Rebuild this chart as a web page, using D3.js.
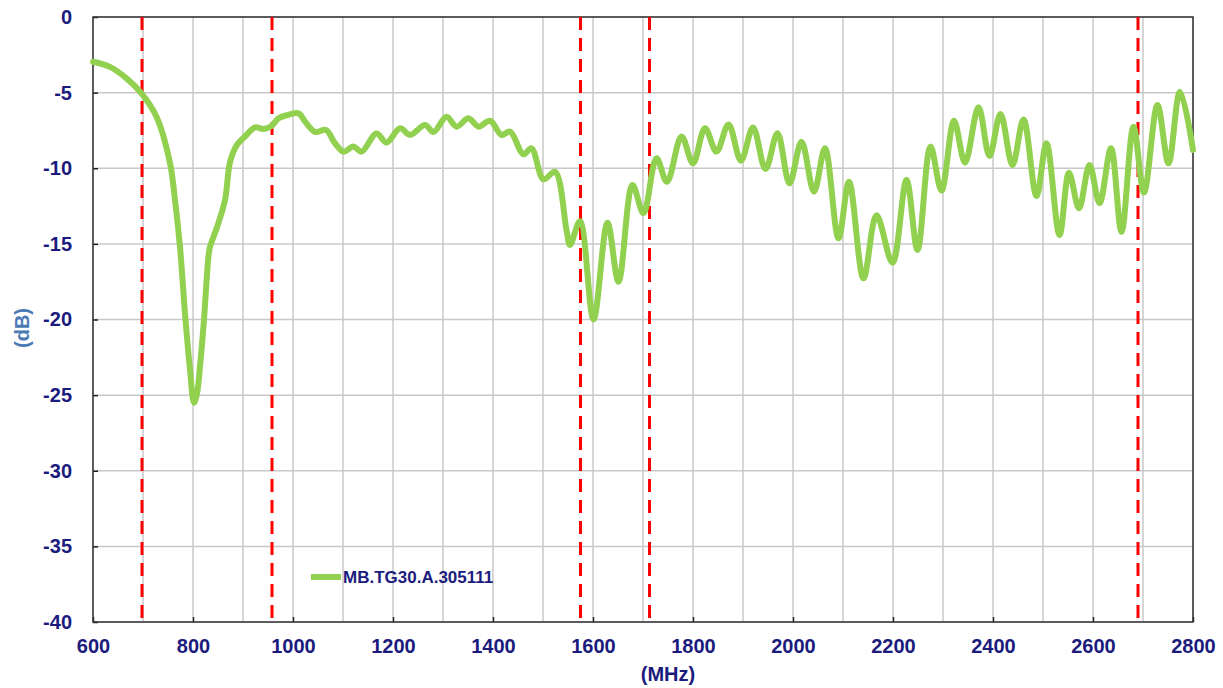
<!DOCTYPE html>
<html>
<head>
<meta charset="utf-8">
<script src="https://cdn.jsdelivr.net/npm/d3@7"></script>
<style>
  html, body { margin: 0; padding: 0; background: #fff; }
  #chart { width: 1223px; height: 688px; }
  text { font-family: "Liberation Sans", Arial, sans-serif; }
</style>
</head>
<body>
<div id="chart"></div>
<script>
// =============================
// DATA
// =============================
const freq = [600, 634, 667, 697, 727, 754, 764, 774, 784, 794, 802, 808, 814, 822, 831, 834, 848, 864, 874, 887,
  907, 924, 941, 957, 971, 987, 1011, 1024, 1044, 1066, 1084, 1101, 1121, 1137, 1167, 1187, 1214, 1234, 1264, 1281,
  1307, 1327, 1351, 1371, 1394, 1417, 1434, 1461, 1477, 1501, 1524, 1547, 1554, 1574, 1601, 1629, 1651, 1679, 1701, 1727,
  1748, 1777, 1800, 1824, 1847, 1871, 1896, 1920, 1945, 1969, 1993, 2017, 2042, 2064, 2091, 2112, 2141, 2167, 2199, 2227,
  2249, 2275, 2297, 2322, 2344, 2371, 2393, 2415, 2439, 2461, 2487, 2507, 2533, 2552, 2572, 2593, 2613, 2636, 2657, 2681,
  2702, 2729, 2751, 2774, 2800];
const gain = [-2.96, -3.3, -4.06, -5.05, -6.6, -9.66, -12.1, -15.2, -19.6, -23.3, -25.5, -24.9, -23.1, -20.0, -15.8, -15.2, -13.9, -12.1, -9.6, -8.5,
  -7.8, -7.3, -7.4, -7.2, -6.7, -6.5, -6.37, -6.9, -7.6, -7.47, -8.35, -8.9, -8.57, -8.9, -7.7, -8.3, -7.36, -7.8, -7.14, -7.6,
  -6.6, -7.25, -6.7, -7.25, -6.86, -7.8, -7.58, -9.08, -8.68, -10.73, -10.23, -14.08, -15.07, -13.5, -20.0, -13.6, -17.5, -11.1, -12.98, -9.34,
  -10.9, -7.9, -9.67, -7.36, -8.9, -7.1, -9.5, -7.3, -10.05, -7.69, -11.0, -8.24, -11.55, -8.68, -14.63, -10.9, -17.28, -13.1, -16.24, -10.78,
  -15.4, -8.57, -11.48, -6.86, -9.63, -5.97, -9.19, -6.41, -9.79, -6.77, -11.83, -8.35, -14.41, -10.29, -12.65, -9.79, -12.3, -8.68, -14.2, -7.25,
  -11.6, -5.82, -9.67, -4.94, -8.79];

const markers = [698, 958, 1575, 1713, 2690];   // red dashed band edges
const xTicks = [600, 800, 1000, 1200, 1400, 1600, 1800, 2000, 2200, 2400, 2600, 2800];
const yTicks = [0, -5, -10, -15, -20, -25, -30, -35, -40];
const xGrid = d3.range(600, 2801, 100);
const seriesName = "MB.TG30.A.305111";

// =============================
// SETUP
// =============================
const W = 1223, H = 688;
const mL = 93, mR = 1193, mT = 17, mB = 622;
const navy = "#1b1b7e";

const svg = d3.select("#chart").append("svg")
  .attr("width", W)
  .attr("height", H);

const x = d3.scaleLinear().domain([600, 2800]).range([mL, mR]);
const y = d3.scaleLinear().domain([-40, 0]).range([mB, mT]);

// =============================
// GRID
// =============================
svg.append("g")
  .selectAll("line")
  .data(xGrid)
  .enter().append("line")
  .attr("x1", d => x(d)).attr("x2", d => x(d))
  .attr("y1", mT).attr("y2", mB)
  .attr("stroke", "#c8c8c8").attr("stroke-width", 1.5);

svg.append("g")
  .selectAll("line")
  .data(yTicks)
  .enter().append("line")
  .attr("x1", mL).attr("x2", mR)
  .attr("y1", d => y(d)).attr("y2", d => y(d))
  .attr("stroke", "#c8c8c8").attr("stroke-width", 1.5);

// =============================
// AXES (ticks inside, labels outside)
// =============================
const plain = d => String(d);   // hyphen minus, no thousands comma
const xAxis = svg.append("g")
  .attr("transform", `translate(0,${mB})`)
  .call(d3.axisBottom(x).tickValues(xTicks).tickFormat(plain)
    .tickSizeInner(-5).tickSizeOuter(0).tickPadding(12));
const yAxis = svg.append("g")
  .attr("transform", `translate(${mL},0)`)
  .call(d3.axisLeft(y).tickValues(yTicks).tickFormat(plain)
    .tickSizeInner(-5).tickSizeOuter(0).tickPadding(21));

[xAxis, yAxis].forEach(a => {
  a.select(".domain").remove();
  a.selectAll(".tick line").attr("stroke", "#222").attr("stroke-width", 1.5);
  a.selectAll(".tick text")
    .attr("fill", navy)
    .attr("font-size", "20px")
    .attr("font-weight", "bold")
    .attr("font-family", "'Liberation Sans', Arial, sans-serif");
});
xAxis.selectAll(".tick text").attr("dy", "0.95em");

// frame
svg.append("rect")
  .attr("x", mL).attr("y", mT)
  .attr("width", mR - mL).attr("height", mB - mT)
  .attr("fill", "none").attr("stroke", "#333").attr("stroke-width", 1.5);

// =============================
// RED MARKERS
// =============================
svg.append("g")
  .selectAll("line")
  .data(markers)
  .enter().append("line")
  .attr("x1", d => x(d)).attr("x2", d => x(d))
  .attr("y1", mT).attr("y2", mB)
  .attr("stroke", "#ff0000")
  .attr("stroke-width", 3)
  .attr("stroke-dasharray", "13,8");

// =============================
// CURVE
// =============================
const pts = freq.map((f, i) => [f, gain[i]]);
const line = d3.line()
  .x(d => x(d[0]))
  .y(d => y(d[1]))
  .curve(d3.curveCatmullRom.alpha(0.5));

svg.append("path")
  .datum(pts)
  .attr("d", line)
  .attr("fill", "none")
  .attr("stroke", "#92d050")
  .attr("stroke-width", 6)
  .attr("stroke-linejoin", "round")
  .attr("stroke-linecap", "round");

// =============================
// LEGEND
// =============================
svg.append("line")
  .attr("x1", 311).attr("x2", 341)
  .attr("y1", 577).attr("y2", 577)
  .attr("stroke", "#92d050").attr("stroke-width", 6);
svg.append("text")
  .attr("x", 343).attr("y", 583)
  .attr("fill", navy)
  .attr("font-size", "17px")
  .attr("font-weight", "bold")
  .text(seriesName);

// =============================
// AXIS TITLES
// =============================
svg.append("text")
  .attr("x", 668).attr("y", 681)
  .attr("text-anchor", "middle")
  .attr("fill", navy)
  .attr("font-size", "20px")
  .attr("font-weight", "bold")
  .text("(MHz)");

svg.append("text")
  .attr("transform", "translate(29,328) rotate(-90)")
  .attr("text-anchor", "middle")
  .attr("fill", "#4a7ab5")
  .attr("font-size", "20px")
  .attr("font-weight", "bold")
  .text("(dB)");
</script>
</body>
</html>
